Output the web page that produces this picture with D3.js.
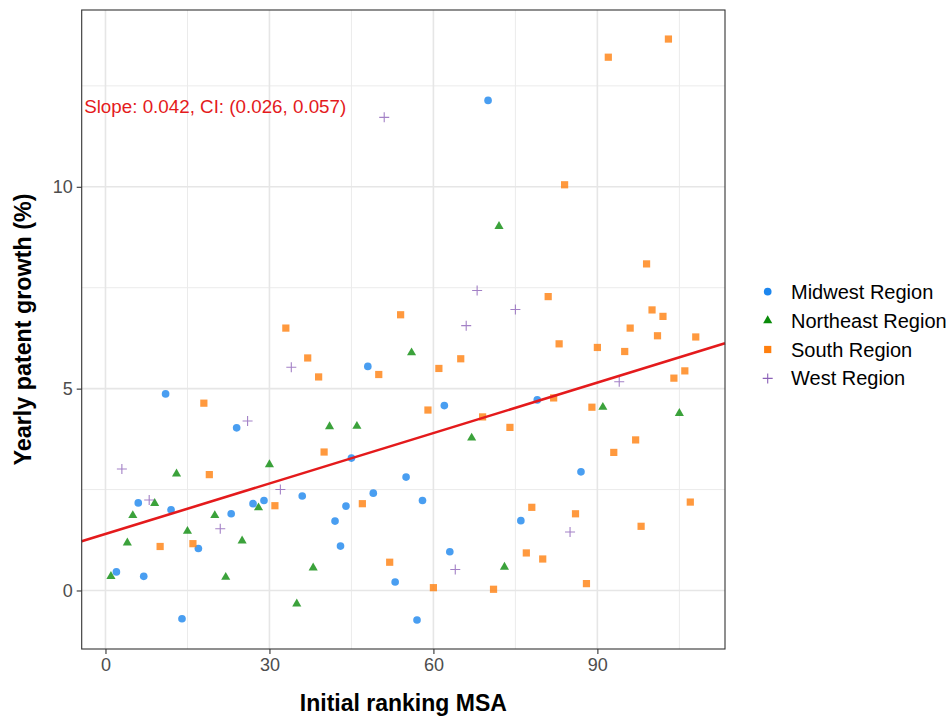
<!DOCTYPE html>
<html>
<head>
<meta charset="utf-8">
<script src="https://cdn.jsdelivr.net/npm/d3@7"></script>
<style>
  html, body { margin: 0; padding: 0; background: #fff; }
  svg { display: block; font-family: "Liberation Sans", Arial, sans-serif; }
</style>
</head>
<body>
<svg id="chart" width="952" height="717"></svg>
<script>
// ---- data ----
const regions = ["Midwest Region", "Northeast Region", "South Region", "West Region"];

const midwestRank   = [2, 6, 7, 11, 12, 14, 17, 23, 24, 27, 29, 36, 42, 43, 44, 45, 48, 49, 53, 55, 57, 58, 62, 63, 70, 76, 79, 87];
const midwestGrowth = [0.46, 2.17, 0.35, 4.87, 2.00, -0.70, 1.04, 1.90, 4.03, 2.15, 2.23, 2.34, 1.72, 1.10, 2.09, 3.28, 5.55, 2.41, 0.21, 2.81, -0.73, 2.23, 4.58, 0.96, 12.14, 1.73, 4.72, 2.94];

const northeastRank   = [1, 4, 5, 9, 13, 15, 20, 22, 25, 28, 30, 35, 38, 41, 46, 56, 67, 72, 73, 91, 105];
const northeastGrowth = [0.35, 1.18, 1.86, 2.16, 2.89, 1.47, 1.86, 0.33, 1.23, 2.05, 3.12, -0.33, 0.56, 4.06, 4.07, 5.89, 3.78, 9.02, 0.58, 4.54, 4.39];

const southRank   = [10, 16, 18, 19, 31, 33, 37, 39, 40, 47, 50, 52, 54, 59, 60, 61, 65, 69, 71, 74, 77, 78, 80, 81, 82, 83, 84, 86, 88, 89, 90, 92, 93, 95, 96, 97, 98, 99, 100, 101, 102, 103, 104, 106, 107, 108];
const southGrowth = [1.09, 1.16, 4.64, 2.87, 2.10, 6.50, 5.76, 5.29, 3.43, 2.15, 5.35, 0.70, 6.83, 4.47, 0.07, 5.50, 5.74, 4.30, 0.03, 4.04, 0.93, 2.06, 0.78, 7.28, 4.77, 6.11, 10.05, 1.90, 0.17, 4.54, 6.02, 13.21, 3.42, 5.92, 6.50, 3.73, 1.59, 8.09, 6.95, 6.31, 6.79, 13.66, 5.26, 5.44, 2.19, 6.28];

const westRank   = [3, 8, 21, 26, 32, 34, 51, 64, 66, 68, 75, 85, 94];
const westGrowth = [3.01, 2.24, 1.53, 4.20, 2.50, 5.53, 11.72, 0.52, 6.56, 7.43, 6.96, 1.45, 5.17];

const xTicks = [0, 30, 60, 90];
const yTicks = [0, 5, 10];
const xMinor = [15, 45, 75, 105];
const yMinor = [2.5, 7.5, 12.5];

const annotationText = "Slope: 0.042, CI: (0.026, 0.057)";
const annotationPos = [-3.9, 12];

const xTitle = "Initial ranking MSA";
const yTitle = "Yearly patent growth (%)";

// ---- styles ----
const colors = { "Midwest Region": "#1C86EE", "Northeast Region": "#0A8B0A", "South Region": "#FF7F0E", "West Region": "#8C62B8" };
const shapes = { "Midwest Region": "circle", "Northeast Region": "triangle", "South Region": "square", "West Region": "cross" };

const seriesRank = [midwestRank, northeastRank, southRank, westRank];
const seriesGrowth = [midwestGrowth, northeastGrowth, southGrowth, westGrowth];

const points = [];
regions.forEach((r, i) => seriesRank[i].forEach((x, j) => points.push({ region: r, x: x, y: seriesGrowth[i][j] })));

// ---- layout ----
const svg = d3.select("#chart");
const panel = { left: 81.7, right: 725, top: 10, bottom: 649 };

function expand(ext) { const d = (ext[1] - ext[0]) * 0.05; return [ext[0] - d, ext[1] + d]; }
const x = d3.scaleLinear().domain(expand(d3.extent(points, d => d.x))).range([panel.left, panel.right]);
const y = d3.scaleLinear().domain(expand(d3.extent(points, d => d.y))).range([panel.bottom, panel.top]);

// grid
const g = svg.append("g");
g.selectAll(".xminor").data(xMinor).join("line")
  .attr("x1", d => x(d)).attr("x2", d => x(d)).attr("y1", panel.top).attr("y2", panel.bottom)
  .attr("stroke", "#ebebeb").attr("stroke-width", 1);
g.selectAll(".yminor").data(yMinor).join("line")
  .attr("y1", d => y(d)).attr("y2", d => y(d)).attr("x1", panel.left).attr("x2", panel.right)
  .attr("stroke", "#ebebeb").attr("stroke-width", 1);
g.selectAll(".xmajor").data(xTicks).join("line")
  .attr("x1", d => x(d)).attr("x2", d => x(d)).attr("y1", panel.top).attr("y2", panel.bottom)
  .attr("stroke", "#e6e6e6").attr("stroke-width", 1.6);
g.selectAll(".ymajor").data(yTicks).join("line")
  .attr("y1", d => y(d)).attr("y2", d => y(d)).attr("x1", panel.left).attr("x2", panel.right)
  .attr("stroke", "#e6e6e6").attr("stroke-width", 1.6);

// regression line (OLS over all points)
const mx = d3.mean(points, d => d.x), my = d3.mean(points, d => d.y);
const slope = d3.sum(points, d => (d.x - mx) * (d.y - my)) / d3.sum(points, d => (d.x - mx) ** 2);
const intercept = my - slope * mx;

// symbols
function symPath(shape) {
  if (shape === "circle") return d3.symbol(d3.symbolCircle, 46)();
  if (shape === "triangle") return d3.symbol(d3.symbolTriangle, 36)();
  if (shape === "square") return d3.symbol(d3.symbolSquare, 52)();
  return "M-5,0H5M0,-5V5";
}
function drawSym(sel, shape, color, opacity) {
  const p = sel.append("path").attr("d", symPath(shape));
  if (shape === "cross") p.attr("fill", "none").attr("stroke", color).attr("stroke-width", 1.1).attr("opacity", opacity);
  else p.attr("fill", color).attr("opacity", opacity);
}

const pg = svg.append("g");
points.forEach(d => {
  const s = pg.append("g").attr("transform", `translate(${x(d.x)},${y(d.y)})`);
  drawSym(s, shapes[d.region], colors[d.region], 0.8);
});

const xd = x.domain();
svg.append("line")
  .attr("x1", x(xd[0])).attr("y1", y(intercept + slope * xd[0]))
  .attr("x2", x(xd[1])).attr("y2", y(intercept + slope * xd[1]))
  .attr("stroke", "#E41A1C").attr("stroke-width", 2.6);

// annotation
svg.append("text").attr("x", x(annotationPos[0])).attr("y", y(annotationPos[1]))
  .attr("dominant-baseline", "central").attr("font-size", 18.8).attr("fill", "#E41A1C")
  .text(annotationText);

// panel border
svg.append("rect").attr("x", panel.left).attr("y", panel.top)
  .attr("width", panel.right - panel.left).attr("height", panel.bottom - panel.top)
  .attr("fill", "none").attr("stroke", "#333333").attr("stroke-width", 1.1);

// axes
const xAxis = svg.append("g").attr("transform", `translate(0,${panel.bottom})`)
  .call(d3.axisBottom(x).tickValues(xTicks).tickSize(5).tickPadding(4).tickFormat(d3.format("d")));
const yAxis = svg.append("g").attr("transform", `translate(${panel.left},0)`)
  .call(d3.axisLeft(y).tickValues(yTicks).tickSize(5).tickPadding(4).tickFormat(d3.format("d")));
[xAxis, yAxis].forEach(a => {
  a.select(".domain").remove();
  a.selectAll(".tick line").attr("stroke", "#333333").attr("stroke-width", 1.1);
  a.selectAll(".tick text").attr("fill", "#4d4d4d").attr("font-size", 18)
    .attr("font-family", "Liberation Sans, Arial, sans-serif");
});

// titles
svg.append("text").attr("x", (panel.left + panel.right) / 2).attr("y", 711)
  .attr("text-anchor", "middle").attr("font-size", 23).attr("font-weight", "bold").attr("fill", "#000")
  .text(xTitle);
svg.append("text").attr("transform", `translate(31,${(panel.top + panel.bottom) / 2}) rotate(-90)`)
  .attr("text-anchor", "middle").attr("font-size", 23.3).attr("font-weight", "bold").attr("fill", "#000")
  .text(yTitle);

// legend
const leg = svg.append("g");
regions.forEach((r, i) => {
  const cy = 291.7 + i * 28.9;
  const s = leg.append("g").attr("transform", `translate(767.7,${cy})`);
  drawSym(s, shapes[r], colors[r], 1);
  leg.append("text").attr("x", 791).attr("y", cy).attr("dominant-baseline", "central")
    .attr("font-size", 20).attr("fill", "#000").text(r);
});
</script>
</body>
</html>
